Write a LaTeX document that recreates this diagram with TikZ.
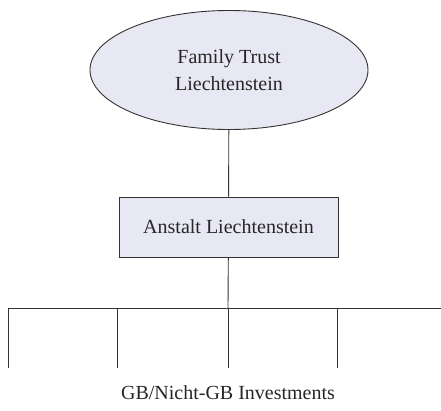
\documentclass[tikz,border=0pt]{standalone}
\usepackage{fontspec}
\setmainfont{Liberation Serif}
\usepackage{tikz}
\usetikzlibrary{
  shapes.geometric,
  positioning,
  calc,
  }
\definecolor{lavfill}{HTML}{E8E8F5}
\definecolor{edgegray}{HTML}{333333}

\begin{document}
\begin{tikzpicture}[x=1pt, y=-1pt,
                    every node/.style={font=\fontsize{20}{27}\selectfont, text=black!85},
                    trust/.style={ellipse, draw=edgegray, fill=lavfill, line width=0.9pt,
                                  minimum width=278pt, minimum height=119pt, inner sep=0pt, align=center},
                    firm/.style={rectangle, draw=edgegray, fill=lavfill, line width=0.9pt,
                                 minimum width=219pt, minimum height=60pt, inner sep=0pt},
                    link/.style={draw=edgegray, line width=0.9pt}]
                \useasboundingbox (0,0) rectangle (441,410);
                \node[trust] (trust) at (229,70) {Family Trust\\Liechtenstein};
                \node[firm] (anstalt) at (228.5,227) {Anstalt Liechtenstein};
                \node (invest) at (228,393) {GB/Nicht-GB Investments};
                % Verteilerlinie
                \coordinate (bus) at (228,308);
                \coordinate (busL) at (8,308);
                \coordinate (busR) at (441,308);
                \draw[link] (trust) -- (anstalt);
                \draw[link] (anstalt) -- (bus);
                \draw[link] (busL) -- (busR);
                \foreach \x [count=\i] in {8,117,228,337}{
                    \coordinate (top\i) at (\x,308);
                    \coordinate (end\i) at (\x,368);
                    \draw[link] (top\i) -- (end\i);
                }
            \end{tikzpicture}
\end{document}
